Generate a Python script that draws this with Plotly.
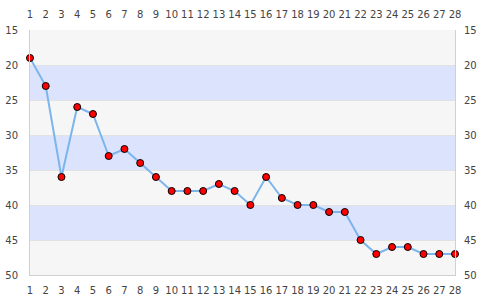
import plotly.graph_objects as go

x_vals = list(range(1, 29))
y_vals = [19, 23, 36, 26, 27, 33, 32, 34, 36, 38, 38, 38, 37, 38, 40, 36, 39, 40, 40, 41, 41, 45, 47, 46, 46, 47, 47, 47]
y_ticks = [15, 20, 25, 30, 35, 40, 45, 50]
band_ranges = [(20, 25), (30, 35), (40, 45)]

fig = go.Figure()
fig.add_trace(go.Scatter(
    x=x_vals, y=y_vals, mode="lines+markers",
    line=dict(color="#7cb5ec", width=2),
    marker=dict(color="#ff0000", size=7, line=dict(color="#000000", width=1)),
    cliponaxis=False, showlegend=False, hoverinfo="x+y"))
fig.add_trace(go.Scatter(
    x=x_vals, y=y_vals, xaxis="x2", yaxis="y2", mode="markers",
    marker=dict(opacity=0), showlegend=False, hoverinfo="skip"))

for lo, hi in band_ranges:
    fig.add_shape(type="rect", xref="paper", yref="y", x0=0, x1=1, y0=lo, y1=hi,
                  fillcolor="#dce3fd", line=dict(width=0), layer="below")

tickfont = dict(family="DejaVu Sans", size=10, color="#444444")
common_x = dict(range=[1, 28], tickmode="array", tickvals=x_vals, ticktext=[str(v) for v in x_vals],
                showgrid=False, zeroline=False, tickfont=tickfont, ticks="", tickangle=0,
                automargin=False, fixedrange=True)
common_y = dict(range=[50, 15], tickmode="array", tickvals=y_ticks, zeroline=False,
                tickfont=tickfont, ticks="", automargin=False, fixedrange=True)

fig.update_layout(
    width=485, height=300,
    margin=dict(l=30, r=30, t=30, b=25),
    paper_bgcolor="#ffffff", plot_bgcolor="#f6f6f6",
    xaxis=dict(**common_x, side="bottom", ticklabelstandoff=6,
               showline=True, linecolor="#d0d0d0", linewidth=1),
    xaxis2=dict(**common_x, side="top", overlaying="x", ticklabelstandoff=9, showline=False),
    yaxis=dict(**common_y, side="left", ticklabelstandoff=9, showgrid=True, gridcolor="#e2e2e2",
               gridwidth=1, showline=True, linecolor="#d0d0d0", linewidth=1),
    yaxis2=dict(**common_y, side="right", overlaying="y", ticklabelstandoff=6, showgrid=False,
                showline=True, linecolor="#d0d0d0", linewidth=1),
)

fig.write_html("out.html")
